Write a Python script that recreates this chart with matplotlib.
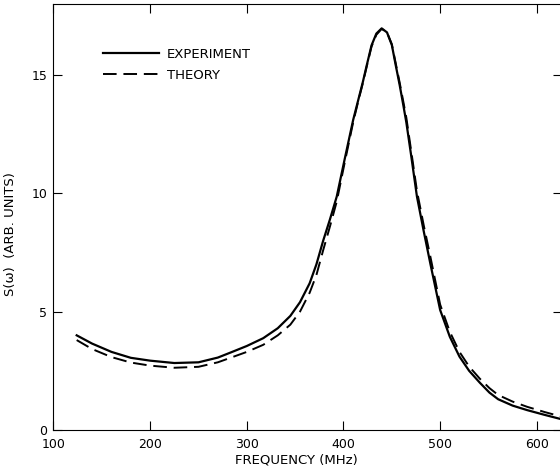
import numpy as np
import matplotlib.pyplot as plt

# S(w) spectrum, experiment vs theory
freq_exp = [124, 140, 160, 180, 200, 225, 250, 270, 283, 300, 317, 332, 345, 355, 365,
            372, 379, 386, 393, 401, 410, 415, 420, 424, 429, 434, 439.5, 445, 450,
            454, 458, 462, 465, 470, 476, 483, 490, 500, 510, 520, 530, 541, 551,
            560, 575, 590, 608, 626]
s_exp = [4.0, 3.65, 3.3, 3.05, 2.93, 2.83, 2.86, 3.06, 3.27, 3.55, 3.88, 4.3, 4.82, 5.4, 6.2,
         7.0, 8.0, 8.9, 9.86, 11.4, 13.1, 13.9, 14.7, 15.4, 16.25, 16.75, 16.97, 16.8, 16.27,
         15.42, 14.6, 13.7, 13.0, 11.6, 9.86, 8.4, 7.0, 5.07, 3.94, 3.1, 2.5, 2.0, 1.58,
         1.3, 1.03, 0.84, 0.64, 0.45]

freq_th = [124, 140, 160, 180, 200, 225, 250, 270, 283, 300, 317, 332, 345, 355, 365,
           372, 379, 386, 393, 401, 410, 415, 420, 424, 429, 434, 439.5, 445, 450,
           454, 458, 462, 465, 470, 476, 483, 490, 500, 510, 520, 530, 541, 551,
           560, 575, 590, 608, 626]
s_th = [3.8, 3.42, 3.08, 2.85, 2.72, 2.63, 2.67, 2.86, 3.05, 3.3, 3.6, 4.0, 4.45, 5.0, 5.8,
        6.55, 7.6, 8.6, 9.65, 11.25, 13.0, 13.85, 14.65, 15.35, 16.2, 16.7, 16.95, 16.8, 16.3,
        15.5, 14.7, 13.85, 13.2, 11.8, 10.1, 8.65, 7.3, 5.3, 4.15, 3.3, 2.68, 2.17, 1.77,
        1.48, 1.2, 0.98, 0.76, 0.56]

xticks = [100, 200, 300, 400, 500, 600]
yticks = [0, 5, 10, 15]

plt.rcParams['font.family'] = ['DejaVu Sans']
fig = plt.figure(figsize=(5.6, 4.7), dpi=100)
ax = fig.add_axes([0.0955, 0.0851, 0.908, 0.9064])

ax.plot(freq_exp, s_exp, color='black', lw=1.6, label='EXPERIMENT',
        solid_joinstyle='round')
ax.plot(freq_th, s_th, color='black', lw=1.4, dashes=(7, 3.5), label='THEORY')

ax.set_xlim(100, 626)
ax.set_ylim(0, 18)
ax.set_xticks(xticks)
ax.set_yticks(yticks)
ax.tick_params(direction='in', top=True, right=True, length=6.5, width=0.8,
               labelsize=9)
ax.tick_params(axis='x', pad=5.5)
ax.tick_params(axis='y', pad=4.5)
for sp in ax.spines.values():
    sp.set_linewidth(0.8)

ax.set_xlabel('FREQUENCY (MHz)', fontsize=9.5)
ax.xaxis.set_label_coords(0.477, -0.054)
ax.set_ylabel('S(\u03c9)  (ARB. UNITS)', fontsize=9.5)
ax.yaxis.set_label_coords(-0.072, 0.46)

ax.legend(loc='upper left', bbox_to_anchor=(0.075, 0.925), frameon=False,
          fontsize=9.5, handlelength=4.2, handletextpad=0.6, labelspacing=0.6)

fig.savefig('out.png', dpi=100)
